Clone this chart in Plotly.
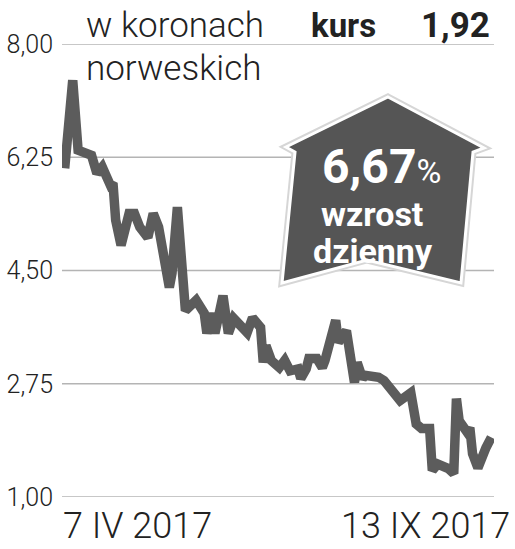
import plotly.graph_objects as go

# notowania w koronach norweskich, 7 IV - 13 IX 2017
dates = [
    "2017-04-07", "2017-04-10", "2017-04-12", "2017-04-14", "2017-04-17",
    "2017-04-19", "2017-04-20", "2017-04-21", "2017-04-24", "2017-04-25",
    "2017-04-26", "2017-04-28", "2017-05-01", "2017-05-03", "2017-05-05",
    "2017-05-08", "2017-05-10", "2017-05-12", "2017-05-16", "2017-05-17",
    "2017-05-19", "2017-05-22", "2017-05-26", "2017-05-29", "2017-05-30",
    "2017-06-01", "2017-06-02", "2017-06-05", "2017-06-07", "2017-06-09",
    "2017-06-14", "2017-06-16", "2017-06-19", "2017-06-20", "2017-06-21",
    "2017-06-23", "2017-06-26", "2017-06-28", "2017-06-30", "2017-07-03",
    "2017-07-04", "2017-07-06", "2017-07-07", "2017-07-10", "2017-07-12",
    "2017-07-13", "2017-07-17", "2017-07-18", "2017-07-21", "2017-07-24",
    "2017-07-25", "2017-07-27", "2017-07-28", "2017-08-02", "2017-08-04",
    "2017-08-07", "2017-08-08", "2017-08-10", "2017-08-14", "2017-08-15",
    "2017-08-16", "2017-08-18", "2017-08-21", "2017-08-22", "2017-08-24",
    "2017-08-28", "2017-08-29", "2017-08-30", "2017-08-31", "2017-09-01",
    "2017-09-04", "2017-09-05", "2017-09-06", "2017-09-08", "2017-09-11",
    "2017-09-13",
]
prices = [
    6.08, 7.44, 6.36, 6.33, 6.28, 6.00, 6.08, 6.10, 5.82, 5.85,
    5.28, 4.89, 5.38, 5.38, 5.17, 5.01, 5.38, 5.17, 4.24, 4.46,
    5.48, 3.88, 4.04, 3.84, 3.53, 3.84, 3.53, 4.11, 3.53, 3.76,
    3.54, 3.77, 3.62, 3.08, 3.34, 3.11, 3.00, 3.11, 2.95, 2.98,
    2.83, 2.98, 3.14, 3.14, 3.00, 3.11, 3.73, 3.39, 3.57, 2.77,
    3.08, 2.83, 2.88, 2.85, 2.80, 2.67, 2.60, 2.49, 2.61, 2.29,
    2.13, 2.06, 2.06, 1.41, 1.51, 1.44, 1.41, 1.36, 2.52, 2.18,
    2.00, 2.07, 1.67, 1.45, 1.76, 1.92,
]

y_ticks = [1.00, 2.75, 4.50, 6.25, 8.00]
y_labels = ["1,00", "2,75", "4,50", "6,25", "8,00"]

LIGHT = "Roboto"
BOLD = "Roboto"
INK = "#222222"

# plot area in pixels: x 62..494, y 44..497
PL, PR, PT, PB = 62, 494, 44, 497
W, H = 515, 549


def px(x):
    return (x - PL) / (PR - PL)


def py(y):
    return (PB - y) / (PB - PT)


fig = go.Figure(go.Scatter(
    x=dates, y=prices, mode="lines",
    line=dict(color="#5c5c5c", width=9.5),
    hoverinfo="x+y",
))

shapes = []
# linie siatki
for t in y_ticks:
    shapes.append(dict(type="line", xref="paper", yref="y", x0=0, x1=1, y0=t, y1=t,
                       line=dict(color="#b4b4b4", width=1.3), layer="below"))

# strzalka "wzrost" (z lekkim cieniem)
arrow = [(388, 97), (484, 148), (473, 152), (461, 283), (367, 260),
         (282, 283), (295, 152), (286, 147)]
path = "M " + " L ".join(f"{px(a):.4f},{py(b):.4f}" for a, b in arrow) + " Z"
shapes.append(dict(type="path", path=path, xref="paper", yref="paper",
                   fillcolor="#555555", line=dict(color="#d6d6d6", width=7), layer="above"))
shapes.append(dict(type="path", path=path, xref="paper", yref="paper",
                   fillcolor="#555555", line=dict(color="white", width=3), layer="above"))


def label(text, x, y, size, anchor="left", color=INK, weight=None, family=LIGHT):
    f = dict(family=family, size=size, color=color)
    if weight:
        f["weight"] = weight
    return dict(text=text, x=px(x), y=py(y), xref="paper", yref="paper",
                xanchor=anchor, yanchor="middle", showarrow=False, font=f)


fig.update_layout(
    width=W, height=H,
    margin=dict(l=PL, r=W - PR, t=PT, b=H - PB),
    paper_bgcolor="white",
    plot_bgcolor="white",
    showlegend=False,
    xaxis=dict(
        range=["2017-04-06", "2017-09-14"], automargin=False,
        showgrid=False, zeroline=False, showticklabels=False, ticks="",
    ),
    yaxis=dict(
        range=[1, 8], tickvals=y_ticks, ticktext=y_labels, automargin=False,
        showgrid=False, zeroline=False, ticks="", ticklabelstandoff=8,
        tickfont=dict(family=LIGHT, size=25, color=INK, weight=300),
    ),
    shapes=shapes,
    annotations=[
        label("w koronach", 84, 25, 35, weight=300),
        label("norweskich", 84, 68, 35, weight=300),
        label("<b>kurs</b>", 309, 25, 33),
        label("<b>1,92</b>", 492, 25, 35, anchor="right"),
        label("<b>6,67</b><span style='font-size:34px'>%</span>", 381, 166, 48,
              anchor="center", color="white"),
        label("<b>wzrost</b>", 372, 214, 34, anchor="center", color="white"),
        label("<b>dzienny</b>", 373, 251, 34, anchor="center", color="white"),
        label("7 IV 2017", 61, 526, 36, weight=300),
        label("13 IX 2017", 512, 526, 36, anchor="right", weight=300),
    ],
)

fig.write_html("out.html", config={"displayModeBar": False},
               post_script="document.body.style.margin='0';")
